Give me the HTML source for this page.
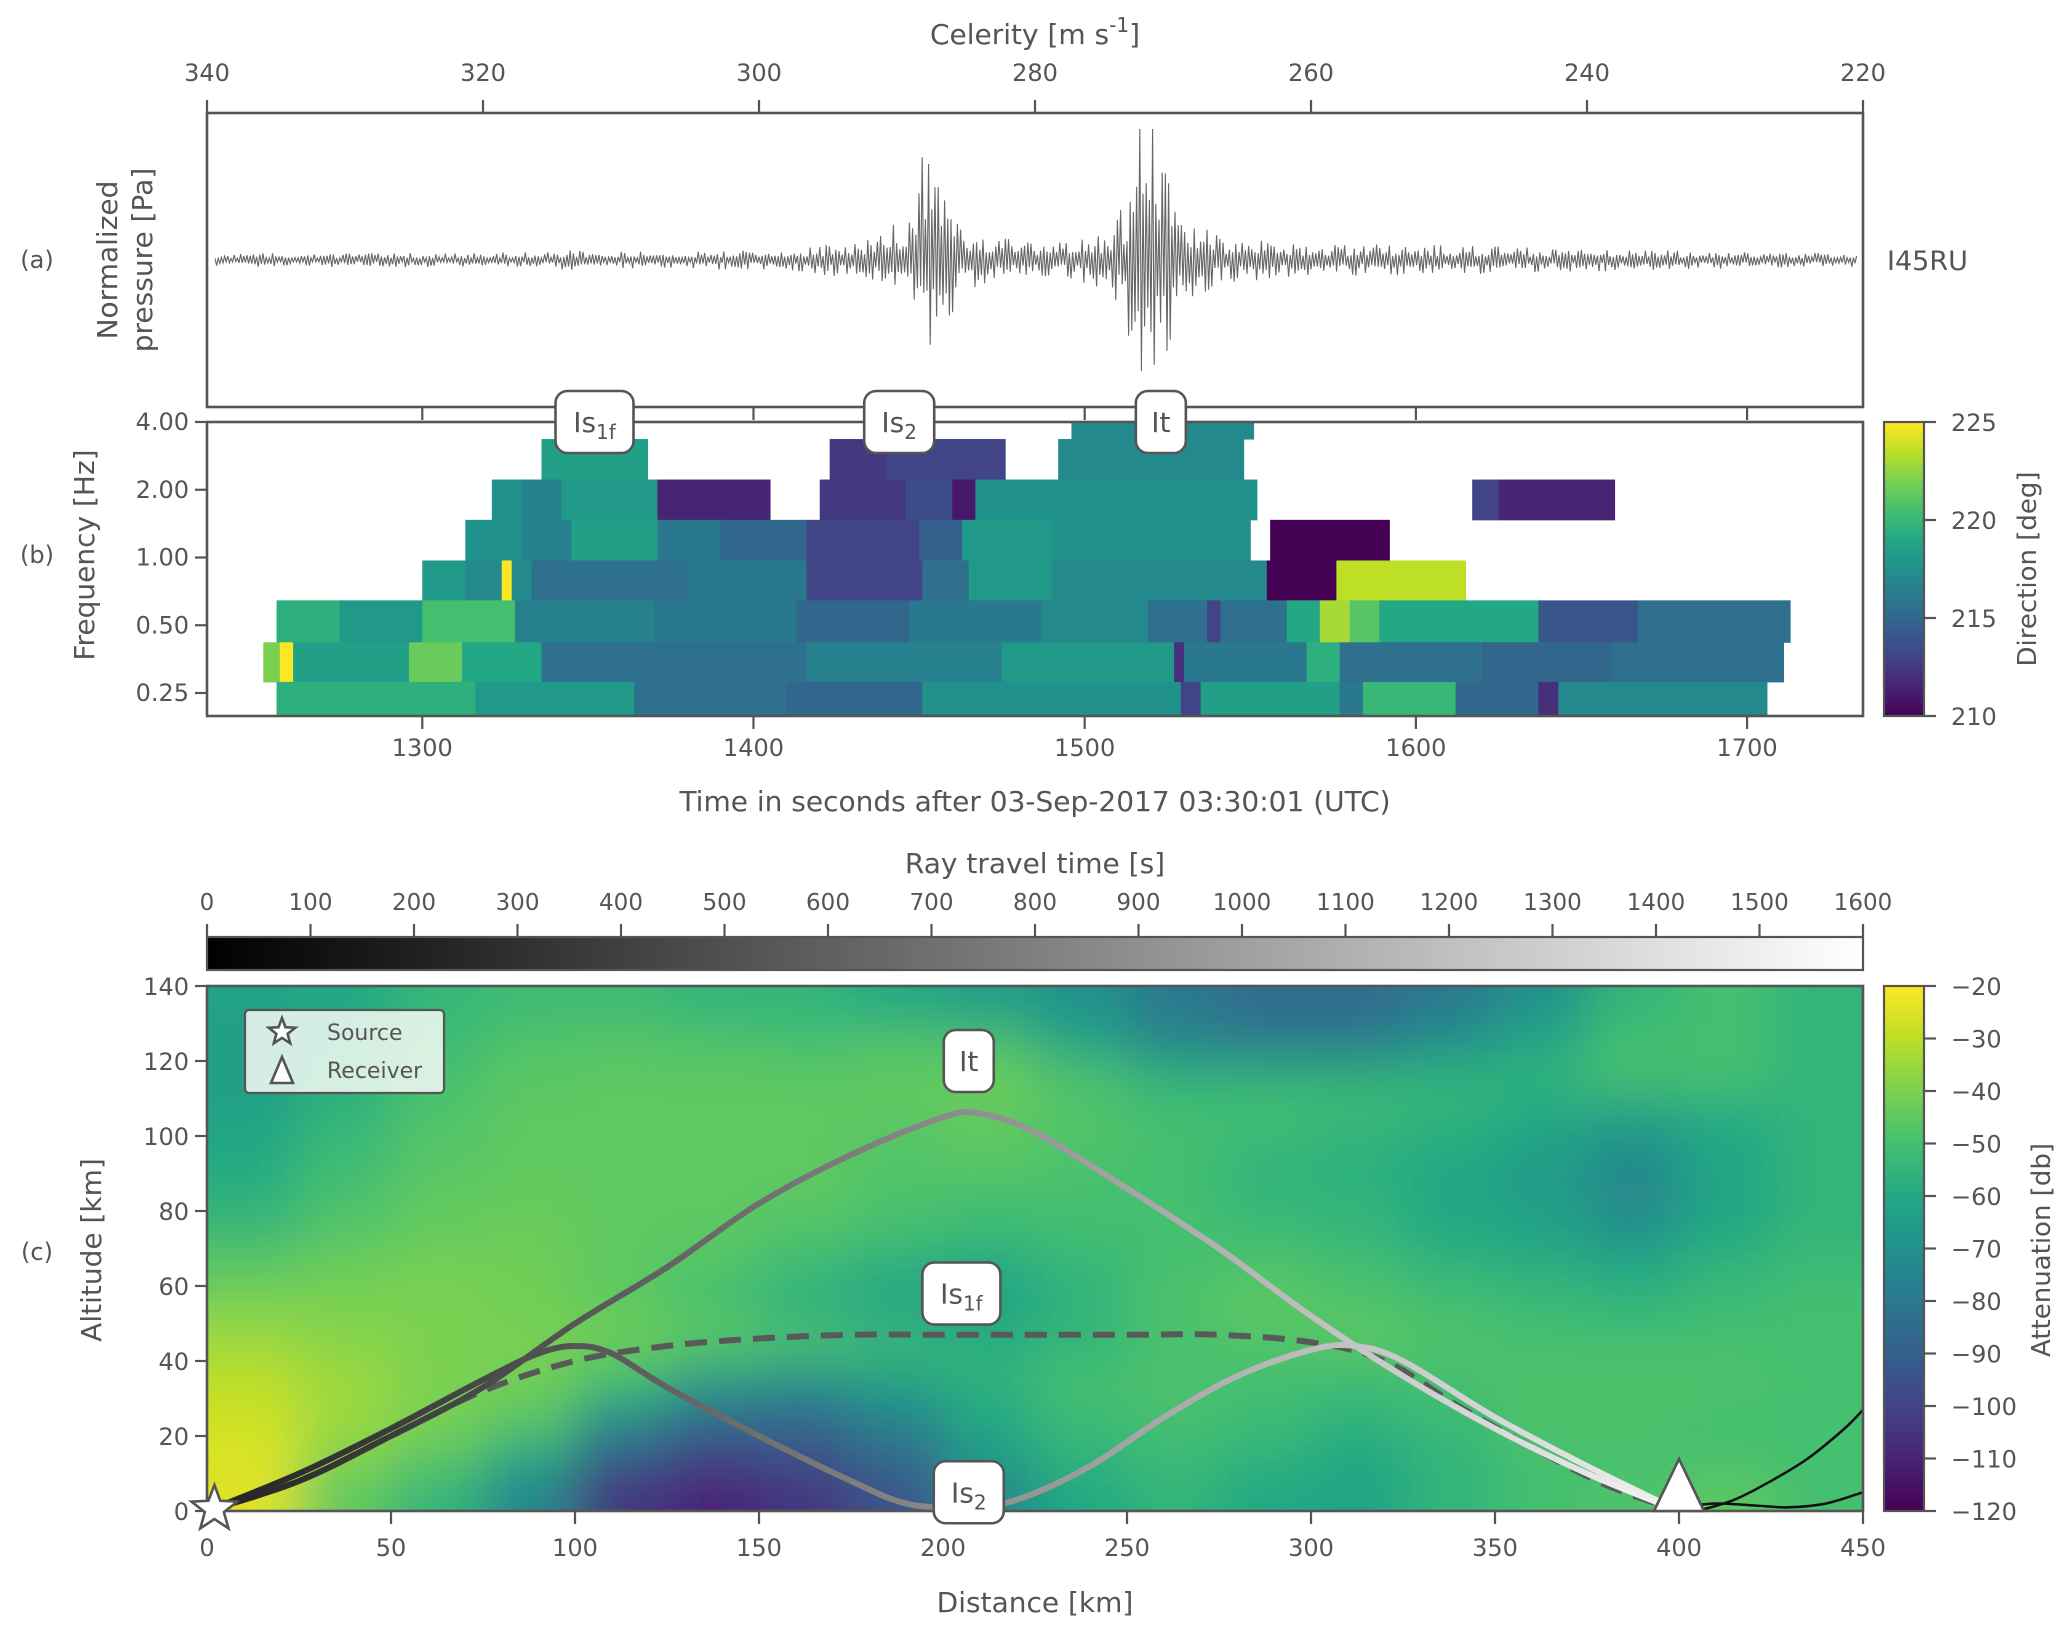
<!DOCTYPE html>
<html><head><meta charset="utf-8">
<style>
html,body{margin:0;padding:0;background:#fff;}
svg{display:block;font-family:"DejaVu Sans","Liberation Sans",sans-serif;}
text{fill:#555;}
</style></head>
<body>
<svg id="fig" xmlns="http://www.w3.org/2000/svg" width="2067" height="1629" viewBox="0 0 2067 1629">
<defs>
  <clipPath id="clipA"><rect x="207" y="113" width="1656" height="294"/></clipPath>
  <clipPath id="clipB"><rect x="207" y="422" width="1656" height="294"/></clipPath>
  <clipPath id="clipC"><rect x="207" y="986" width="1656" height="525"/></clipPath>
  <filter id="blurC" x="-5%" y="-5%" width="110%" height="110%"><feGaussianBlur stdDeviation="26"/></filter>
  <linearGradient id="greys" x1="0" x2="1" y1="0" y2="0">
    <stop offset="0" stop-color="#000"/><stop offset="1" stop-color="#fff"/>
  </linearGradient>
  <linearGradient id="viridisV" x1="0" x2="0" y1="1" y2="0">
    <stop offset="0" stop-color="#440154"/><stop offset="0.1" stop-color="#482475"/><stop offset="0.2" stop-color="#414487"/><stop offset="0.3" stop-color="#355f8d"/><stop offset="0.4" stop-color="#2a788e"/><stop offset="0.5" stop-color="#21918c"/><stop offset="0.6" stop-color="#22a884"/><stop offset="0.7" stop-color="#44bf70"/><stop offset="0.8" stop-color="#7ad151"/><stop offset="0.9" stop-color="#bddf26"/><stop offset="1" stop-color="#fde725"/>
  </linearGradient>
  <linearGradient id="rayIt" gradientUnits="userSpaceOnUse" x1="207" x2="1679" y1="0" y2="0">
    <stop offset="0" stop-color="#222"/><stop offset="0.5" stop-color="#8a8a8a"/><stop offset="1" stop-color="#f4f4f4"/>
  </linearGradient>
  <linearGradient id="rayIs2" gradientUnits="userSpaceOnUse" x1="207" x2="1679" y1="0" y2="0">
    <stop offset="0" stop-color="#222"/><stop offset="0.25" stop-color="#555"/><stop offset="0.5" stop-color="#8a8a8a"/><stop offset="1" stop-color="#f0f0f0"/>
  </linearGradient>
</defs>

<text x="1035" y="44" font-size="28" text-anchor="middle">Celerity [m s<tspan baseline-shift="super" font-size="20">-1</tspan>]</text>
<text x="37" y="268" font-size="24" text-anchor="middle">(a)</text>
<text x="37" y="563" font-size="24" text-anchor="middle">(b)</text>
<text x="37" y="1260" font-size="24" text-anchor="middle">(c)</text>
<text font-size="28" text-anchor="middle" transform="translate(117,260) rotate(-90)">Normalized</text>
<text font-size="28" text-anchor="middle" transform="translate(152,260) rotate(-90)">pressure [Pa]</text>
<text x="1887" y="270" font-size="27">I45RU</text>
<text font-size="28" text-anchor="middle" transform="translate(94,555) rotate(-90)">Frequency [Hz]</text>
<text x="1035" y="811" font-size="28" text-anchor="middle">Time in seconds after 03-Sep-2017 03:30:01 (UTC)</text>
<text font-size="26" text-anchor="middle" transform="translate(2036,569) rotate(-90)">Direction [deg]</text>
<text x="1035" y="873" font-size="28" text-anchor="middle">Ray travel time [s]</text>
<text font-size="28" text-anchor="middle" transform="translate(101,1250) rotate(-90)">Altitude [km]</text>
<text x="1035" y="1612" font-size="28" text-anchor="middle">Distance [km]</text>
<text font-size="26" text-anchor="middle" transform="translate(2050,1250) rotate(-90)">Attenuation [db]</text>

<g id="gA"></g>
<g id="gB"></g>
<g id="gC"></g>
<g id="gAxes"></g>
<g id="gLab"></g>
</svg>

<script>
// ---------- DATA ----------
const envTimes = [1235,1260,1300,1340,1345,1350,1380,1410,1430,1440,1448,1452,1456,1462,1470,1480,1495,1505,1512,1517,1520,1524,1530,1540,1560,1590,1620,1660,1700,1735];
const envAmps  = [6,7,7,8,14,8,9,12,18,30,55,125,100,35,30,18,18,28,55,165,175,110,45,26,18,16,14,11,8,7];
const celerityTicks = [340,320,300,280,260,240,220];
const timeTicks = [1300,1400,1500,1600,1700];
const freqTicks = [4,2,1,0.5,0.25];
const freqTickLabels = ["4.00","2.00","1.00","0.50","0.25"];
const dirTicks = [210,215,220,225];
const rowEdges = [4.0,3.36,2.22,1.47,0.97,0.645,0.42,0.28,0.199];
const row0 = [[1496,1551,217]];
const row1 = [[1336,1368,218.5],[1423,1440,212.5],[1440,1476,213],[1492,1548,217]];
const row2 = [[1321,1330,217.5],[1330,1342,216.5],[1342,1371,218],[1371,1405,211.5],[1420,1446,212.5],[1446,1460,213.5],[1460,1467,211],[1467,1552,217.5],[1617,1625,213],[1625,1660,211.5]];
const row3 = [[1313,1330,217.5],[1330,1345,216.5],[1345,1371,218.5],[1371,1390,216],[1390,1416,215],[1416,1450,213],[1450,1463,214.5],[1463,1490,218],[1490,1550,217.5],[1556,1592,210]];
const row4 = [[1300,1313,218],[1313,1324,217],[1324,1327,225],[1327,1333,217],[1333,1380,215.5],[1380,1416,216],[1416,1451,213],[1451,1465,215.5],[1465,1490,218],[1490,1555,217],[1555,1576,210],[1576,1615,223.5]];
const row5 = [[1256,1275,219.5],[1275,1300,218],[1300,1328,220.5],[1328,1370,216.5],[1370,1413,216],[1413,1447,215],[1447,1487,216],[1487,1519,217],[1519,1537,215.5],[1537,1541,213],[1541,1561,215.5],[1561,1571,219],[1571,1580,223],[1580,1589,221],[1589,1637,219],[1637,1667,214],[1667,1713,215.5]];
const row6 = [[1252,1257,222],[1257,1261,225],[1261,1296,218.5],[1296,1312,221.5],[1312,1336,219],[1336,1416,215.5],[1416,1475,216.5],[1475,1527,218],[1527,1530,212],[1530,1567,216],[1567,1577,219.5],[1577,1620,215.5],[1620,1659,215],[1659,1711,215.5]];
const row7 = [[1256,1316,219.5],[1316,1364,218],[1364,1410,215.5],[1410,1451,215],[1451,1529,217.5],[1529,1535,213],[1535,1577,218.5],[1577,1584,216],[1584,1612,220],[1612,1637,215],[1637,1643,212],[1643,1706,217]];
const rows = [row0,row1,row2,row3,row4,row5,row6,row7];
const attenAlt = [130,120,110,100,90,80,70,60,50,40,30,20,10,0];
const attenDist = [0,25,50,75,100,125,150,175,200,225,250,275,300,325,350,375,400,425];
const att130=[-62,-60,-54,-52,-52,-55,-55,-60,-65,-70,-80,-85,-85,-80,-70,-55,-50,-55];
const att120=[-64,-59,-52,-48,-47,-48,-50,-48,-50,-62,-75,-80,-80,-70,-60,-50,-50,-55];
const att110=[-64,-57,-50,-46,-45,-45,-45,-45,-42,-48,-55,-55,-55,-55,-55,-50,-50,-55];
const att100=[-62,-55,-48,-45,-45,-45,-45,-45,-45,-48,-50,-50,-52,-55,-60,-65,-60,-55];
const att90=[-60,-52,-47,-45,-45,-45,-45,-48,-45,-48,-50,-55,-58,-60,-65,-72,-60,-55];
const att80=[-57,-50,-45,-44,-45,-45,-45,-48,-50,-50,-50,-55,-55,-60,-65,-75,-62,-55];
const att70=[-53,-47,-44,-43,-45,-45,-48,-50,-52,-50,-50,-52,-55,-60,-62,-70,-60,-55];
const att60=[-46,-43,-41,-42,-45,-48,-52,-58,-60,-55,-50,-48,-50,-55,-58,-60,-55,-52];
const att50=[-40,-40,-40,-42,-45,-50,-58,-62,-62,-55,-48,-45,-48,-50,-52,-55,-52,-50];
const att40=[-35,-38,-40,-40,-42,-45,-48,-52,-58,-55,-50,-48,-45,-48,-50,-50,-50,-50];
const att30=[-30,-35,-40,-42,-50,-65,-70,-62,-55,-50,-48,-50,-52,-50,-48,-48,-48,-50];
const att20=[-28,-35,-40,-45,-70,-85,-85,-75,-60,-52,-50,-52,-55,-52,-48,-48,-50,-50];
const att10=[-25,-38,-45,-60,-90,-100,-95,-85,-65,-55,-52,-55,-60,-55,-50,-50,-50,-50];
const att0=[-25,-45,-55,-75,-105,-110,-105,-95,-75,-60,-55,-60,-62,-55,-50,-48,-45,-50];
const attenGrid=[att130,att120,att110,att100,att90,att80,att70,att60,att50,att40,att30,att20,att10,att0];
const itDist = [0,25,50,75,100,125,150,175,200,210,225,250,275,300,325,350,375,400];
const itAlt  = [0,8,20,33,50,65,82,95,105,106,101,86,70,52,36,22,10,0];
const is1fDist = [0,25,50,75,100,125,150,175,200,250,275,300,320,340,360,380,400];
const is1fAlt  = [0,8,20,32,40,44,46,47,47,47,47,45,40,28,17,7,0];
const is2Dist = [0,25,50,75,90,100,110,125,150,175,190,205,220,240,260,280,300,312,325,350,375,400];
const is2Alt  = [0,10,22,35,42,44,42,33,20,8,2,1,3,12,25,36,43,44,40,25,12,0];
const blk1Dist = [400,410,420,430,440,450];
const blk1Alt  = [1,2,1.5,1,2,5];
const blk2Dist = [405,415,425,435,445,450];
const blk2Alt  = [0,3,8,14,22,27];
const travelTicks = [0,100,200,300,400,500,600,700,800,900,1000,1100,1200,1300,1400,1500,1600];
const distTicks = [0,50,100,150,200,250,300,350,400,450];
const altTicks = [0,20,40,60,80,100,120,140];
const attTicks = [-20,-30,-40,-50,-60,-70,-80,-90,-100,-110,-120];

// ---------- SCALES ----------
const NS="http://www.w3.org/2000/svg";
const X0=207,X1=1863;
const AT=113,AB=407,BT=422,BB=716,CT=986,CB=1511,TT=937,TB=970,CBX=1884,CBW=40;
const tx=t=>X0+(t-1235)/500*(X1-X0);
const cx=c=>X0+(340-c)/120*(X1-X0);
const fy=f=>BT+Math.log2(4/f)*67.75;
const dx=d=>X0+d/450*(X1-X0);
const ay=a=>CB-a/140*(CB-CT);
const dirY=v=>BB-(v-210)/15*(BB-BT);
const attY=v=>CB-(v+120)/100*(CB-CT);
const ttx=v=>X0+v/1600*(X1-X0);
const vstops=["#440154","#482475","#414487","#355f8d","#2a788e","#21918c","#22a884","#44bf70","#7ad151","#bddf26","#fde725"];
function hex(h){return [parseInt(h.substr(1,2),16),parseInt(h.substr(3,2),16),parseInt(h.substr(5,2),16)];}
function viridis(u){u=Math.max(0,Math.min(1,u));const p=u*10,i=Math.min(9,Math.floor(p)),f=p-i;const a=hex(vstops[i]),b=hex(vstops[i+1]);return "rgb("+a.map((v,k)=>Math.round(v+(b[k]-v)*f)).join(",")+")";}
function mk(tag,attrs,parent){const e=document.createElementNS(NS,tag);for(const k in attrs)e.setAttribute(k,attrs[k]);parent.appendChild(e);return e;}
const gA=document.getElementById('gA'),gB=document.getElementById('gB'),gC=document.getElementById('gC'),gAx=document.getElementById('gAxes'),gL=document.getElementById('gLab');
function interp(xs,ys,x){if(x<=xs[0])return ys[0];for(let i=1;i<xs.length;i++){if(x<=xs[i]){const f=(x-xs[i-1])/(xs[i]-xs[i-1]);return ys[i-1]+f*(ys[i]-ys[i-1]);}}return ys[ys.length-1];}

// ---------- PANEL A ----------
(function(){
  let d="";const cy=260;
  for(let x=X0+8,i=0;x<X1-6;x+=1.6,i++){
    const t=1235+(x-X0)/(X1-X0)*500;
    const env=interp(envTimes,envAmps,t);
    const h=Math.abs(Math.sin(i*12.9898)*43758.5453)%1;
    let a=env*(0.25+0.75*Math.pow(h,1.6));
    a=Math.min(a,(i%2)?124:131);
    const y=cy+(i%2?1:-1)*a;
    d+=(i?"L":"M")+x.toFixed(1)+" "+y.toFixed(1);
  }
  const p=mk('path',{d:d,fill:"none",stroke:"#666","stroke-width":1.1,"clip-path":"url(#clipA)"},gA);
  
  
})();

// ---------- PANEL B ----------
rows.forEach((row,ri)=>{
  const yTop=fy(rowEdges[ri]), yBot=fy(rowEdges[ri+1]);
  row.forEach(seg=>{
    const r=mk('rect',{x:tx(seg[0]),y:yTop,width:tx(seg[1])-tx(seg[0])+0.5,height:yBot-yTop+0.5,fill:viridis((seg[2]-210)/15),"clip-path":"url(#clipB)"},gB);
    
    
  });
});

// ---------- PANEL C ----------
(function(){
  const g=mk('g',{"clip-path":"url(#clipC)"},gC);
  const gb=mk('g',{filter:"url(#blurC)"},g);
  attenGrid.forEach((row,ri)=>{
    row.forEach((v,ci)=>{
      const d0=attenDist[ci],a0=attenAlt[ri];
      const x=dx(d0)-(ci===0?60:0), w=dx(d0+25)-dx(d0)+(ci===0?60:0)+(ci===row.length-1?60:1);
      const y=ay(a0+10)-(ri===0?60:0), h=ay(a0)-ay(a0+10)+(ri===0?60:0)+(ri===attenGrid.length-1?60:1);
      const r=mk('rect',{x:x,y:y,width:w,height:h,fill:viridis((v+120)/100)},gb);
      
      
    });
  });
  function smooth(ds,as){
    const P=ds.map((v,i)=>[dx(v),ay(as[i])]);
    let d="M"+P[0][0].toFixed(1)+" "+P[0][1].toFixed(1);
    for(let i=0;i<P.length-1;i++){
      const p0=P[Math.max(0,i-1)],p1=P[i],p2=P[i+1],p3=P[Math.min(P.length-1,i+2)];
      const c1=[p1[0]+(p2[0]-p0[0])/6,p1[1]+(p2[1]-p0[1])/6];
      const c2=[p2[0]-(p3[0]-p1[0])/6,p2[1]-(p3[1]-p1[1])/6];
      d+="C"+c1[0].toFixed(1)+" "+c1[1].toFixed(1)+" "+c2[0].toFixed(1)+" "+c2[1].toFixed(1)+" "+p2[0].toFixed(1)+" "+p2[1].toFixed(1);
    }
    return d;
  }
  function line(ds,as,attrs,name){
    attrs.d=smooth(ds,as);attrs.fill="none";attrs["stroke-linejoin"]="round";if(!attrs["stroke-linecap"])attrs["stroke-linecap"]="round";
    const p=mk('path',attrs,g);
    
    
  }
  line(blk1Dist,blk1Alt,{stroke:"#111","stroke-width":2.5},'black-ray-1');
  line(blk2Dist,blk2Alt,{stroke:"#111","stroke-width":2.5},'black-ray-2');
  line(is1fDist,is1fAlt,{stroke:"#595959","stroke-width":6,"stroke-dasharray":"22 12","stroke-linecap":"butt"},'is1f-ray');
  line(is2Dist,is2Alt,{stroke:"url(#rayIs2)","stroke-width":6},'is2-ray');
  line(itDist,itAlt,{stroke:"url(#rayIt)","stroke-width":6},'it-ray');
})();

// ---------- AXES / COLORBARS ----------
function tick(x1,y1,x2,y2,name){const l=mk('line',{x1:x1,y1:y1,x2:x2,y2:y2,stroke:"#555","stroke-width":2.2},gAx);}
function label(x,y,s,anchor,name,size){const t=mk('text',{x:x,y:y,"font-size":size||24,"text-anchor":anchor||"middle"},gAx);t.textContent=s;return t;}
function frame(x,y,w,h,name){const r=mk('rect',{x:x,y:y,width:w,height:h,fill:"none",stroke:"#555","stroke-width":2.6},gAx);}
frame(X0,AT,X1-X0,AB-AT,'panel-a-frame');
frame(X0,BT,X1-X0,BB-BT,'panel-b-frame');
frame(X0,CT,X1-X0,CB-CT,'panel-c-frame');
celerityTicks.forEach(c=>{tick(cx(c),AT,cx(c),AT-13,'celerity-tick');label(cx(c),81,String(c),"middle",'celerity-tick-label');});
timeTicks.forEach(t=>{tick(tx(t),BB,tx(t),BB+13,'time-tick');tick(tx(t),AB,tx(t),AB+13,'time-tick-a');label(tx(t),756,String(t),"middle",'time-tick-label');});
freqTicks.forEach((f,i)=>{tick(X0,fy(f),X0-12,fy(f),'freq-tick');label(X0-18,fy(f)+8,freqTickLabels[i],"end",'freq-tick-label');});
(function(){const r=mk('rect',{x:CBX,y:BT,width:CBW,height:BB-BT,fill:"url(#viridisV)",stroke:"#555","stroke-width":2.2},gAx);})();
dirTicks.forEach(v=>{tick(CBX+CBW,dirY(v),CBX+CBW+12,dirY(v),'direction-tick');label(1951,dirY(v)+9,String(v),"start",'direction-tick-label');});
(function(){const r=mk('rect',{x:X0,y:TT,width:X1-X0,height:TB-TT,fill:"url(#greys)",stroke:"#555","stroke-width":2.2},gAx);})();
travelTicks.forEach(v=>{tick(ttx(v),TT,ttx(v),TT-13,'travel-time-tick');label(ttx(v),910,String(v),"middle",'travel-time-tick-label',23);});
distTicks.forEach(v=>{tick(dx(v),CB,dx(v),CB+13,'distance-tick');label(dx(v),1556,String(v),"middle",'distance-tick-label');});
altTicks.forEach(v=>{tick(X0,ay(v),X0-12,ay(v),'altitude-tick');label(X0-18,ay(v)+9,String(v),"end",'altitude-tick-label');});
(function(){const r=mk('rect',{x:CBX,y:CT,width:CBW,height:CB-CT,fill:"url(#viridisV)",stroke:"#555","stroke-width":2.2},gAx);})();
attTicks.forEach(v=>{tick(CBX+CBW,attY(v),CBX+CBW+12,attY(v),'attenuation-tick');label(1951,attY(v)+9,"\u2212"+String(-v),"start",'attenuation-tick-label');});

// ---------- LABELS / MARKERS ----------
function phaseBox(x,y,w,main,sub,name){
  const g=mk('g',{},gL);
  mk('rect',{x:x-w/2,y:y-31,width:w,height:62,rx:12,fill:"#fff",stroke:"#555","stroke-width":2.6},g);
  const t=mk('text',{x:x,y:y+10,"font-size":28,"text-anchor":"middle"},g);
  t.textContent=main;
  if(sub){const s=mk('tspan',{"font-size":20,dy:7},t);s.textContent=sub;}
}
phaseBox(tx(1352),BT,78,"Is","1f",'label-is1f-b');
phaseBox(tx(1444),BT,70,"Is","2",'label-is2-b');
phaseBox(tx(1523),BT,50,"It","",'label-it-b');
phaseBox(dx(207),ay(120),50,"It","",'label-it-c');
phaseBox(dx(205),ay(58),78,"Is","1f",'label-is1f-c');
phaseBox(dx(207),ay(5),70,"Is","2",'label-is2-c');
function star(cxp,cyp,R,name){let d="";for(let i=0;i<10;i++){const r=i%2?R*0.42:R;const a=-Math.PI/2+i*Math.PI/5;d+=(i?"L":"M")+(cxp+r*Math.cos(a)).toFixed(1)+" "+(cyp+r*Math.sin(a)).toFixed(1);}d+="Z";const p=mk('path',{d:d,fill:"#fff",stroke:"#555","stroke-width":2.6},gL);}
function tri(cxp,base,w,h,name){const p=mk('path',{d:`M${cxp-w/2} ${base}L${cxp} ${base-h}L${cxp+w/2} ${base}Z`,fill:"#fff",stroke:"#555","stroke-width":2.6},gL);}
star(dx(2),ay(0)-2,24,'source-marker');
tri(dx(400),CB,50,52,'receiver-marker');
(function(){
  const g=mk('g',{},gL);
  mk('rect',{x:245,y:1010,width:199,height:83,rx:4,fill:"rgba(245,250,245,0.85)",stroke:"#555","stroke-width":2.2},g);
})();
star(282,1032,14,'legend-source-marker');
tri(282,1083,22,26,'legend-receiver-marker');
(function(){
  const t1=mk('text',{x:327,y:1040,"font-size":22},gL);t1.textContent="Source";
  const t2=mk('text',{x:327,y:1078,"font-size":22},gL);t2.textContent="Receiver";
})();
</script>
</body></html>
